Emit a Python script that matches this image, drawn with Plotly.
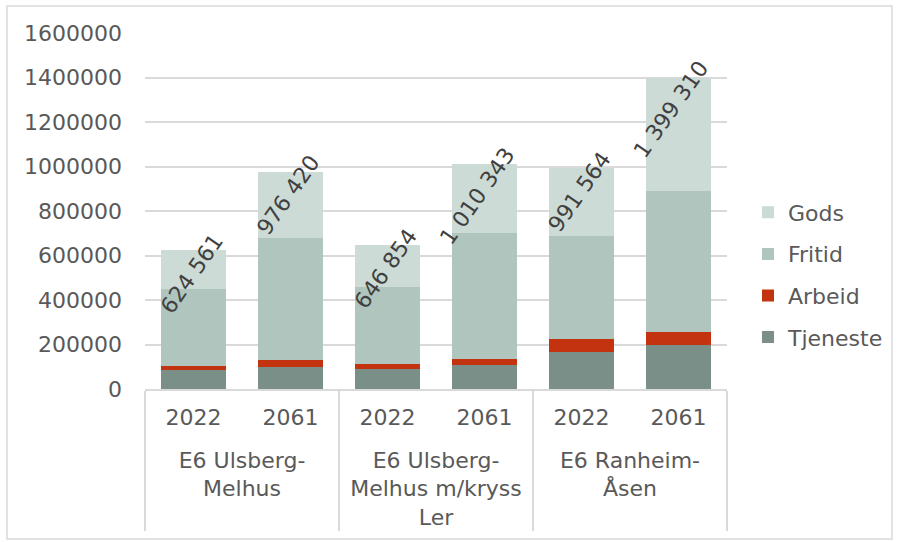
import plotly.graph_objects as go

groups = ["E6 Ulsberg-<br>Melhus", "E6 Ulsberg-<br>Melhus m/kryss<br>Ler", "E6 Ranheim-<br>Åsen"]
years = ["2022", "2061"]

tjeneste = [85000, 100000, 90000, 108000, 166000, 198000]
arbeid = [18000, 30000, 24000, 27000, 60000, 60000]
fritid = [345000, 547000, 343000, 565000, 462000, 633000]
totals = [624561, 976420, 646854, 1010343, 991564, 1399310]
total_labels = ["624 561", "976 420", "646 854", "1 010 343", "991 564", "1 399 310"]
gods = [t - a - b - c for t, a, b, c in zip(totals, tjeneste, arbeid, fritid)]

# inner year labels get a tiny trailing line so the group labels sit lower
SPACER = "<br><span style='font-size:1px'>&nbsp;</span>"
x_outer = [g for g in groups for _ in years]
x_inner = [y + SPACER for _ in groups for y in years]

FONT = "DejaVu Sans"
TXT = "#595959"
FS = 22
BARGAP = 0.33

fig = go.Figure()
series = [
    ("Tjeneste", tjeneste, "#7a8f87", 4),
    ("Arbeid", arbeid, "#c3330f", 3),
    ("Fritid", fritid, "#b0c5bd", 2),
    ("Gods", gods, "#cddbd6", 1),
]
for name, vals, col, rank in series:
    fig.add_trace(go.Bar(x=[x_outer, x_inner], y=vals, name=name, legendgroup=name,
                         legendrank=rank, marker=dict(color=col, line=dict(width=0))))

half = (1 - BARGAP) / 2
for i, (t, lab) in enumerate(zip(totals, total_labels)):
    fig.add_annotation(x=i + half, y=t, text=lab, showarrow=False, textangle=-55,
                       xanchor="right", yanchor="top", yshift=24, xshift=5,
                       font=dict(family=FONT, size=FS, color="#404040"))

W, H = 899, 542
ml, mr, mt, mb = 145, 172, 33, 153
pw, ph = W - ml - mr, H - mt - mb
fig.add_shape(type="rect", xref="paper", yref="paper",
              x0=(7 - ml) / pw, x1=(892 - ml) / pw,
              y0=(H - mb - 539) / ph, y1=(H - mb - 6) / ph,
              line=dict(color="#d9d9d9", width=1.5), fillcolor="rgba(0,0,0,0)", layer="below")

fig.update_layout(
    width=W, height=H,
    margin=dict(l=ml, r=mr, t=mt, b=mb, pad=0, autoexpand=False),
    barmode="stack", bargap=BARGAP,
    paper_bgcolor="white", plot_bgcolor="white",
    font=dict(family=FONT, size=FS, color=TXT),
    legend=dict(traceorder="grouped", x=(748 - ml) / pw, y=(H - mb - 275) / ph,
                xanchor="left", yanchor="middle",
                font=dict(family=FONT, size=FS, color=TXT), itemwidth=30,
                tracegroupgap=10, bgcolor="rgba(0,0,0,0)"),
    showlegend=True,
)
fig.update_yaxes(range=[0, 1600000], tickvals=[i * 200000 for i in range(9)],
                 tickformat="d", gridcolor="#d9d9d9", gridwidth=1.5, zeroline=False,
                 showline=False, ticks="", ticklabelstandoff=22, automargin=False)
fig.update_xaxes(type="multicategory", showline=True, linecolor="#d9d9d9", linewidth=1.5,
                 showdividers=True, dividercolor="#d9d9d9", dividerwidth=1.5,
                 ticks="", ticklabelstandoff=8, tickson="boundaries", automargin=False)

fig.write_html("out.html")
